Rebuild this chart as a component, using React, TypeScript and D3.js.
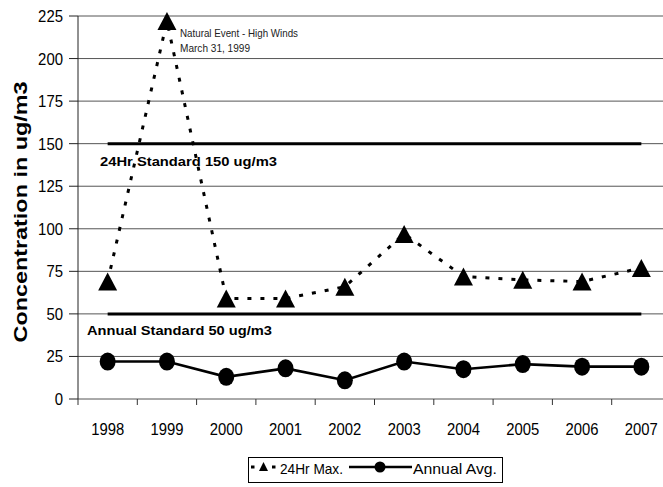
import React from "react";
import * as d3 from "d3";

const years = ["1998", "1999", "2000", "2001", "2002", "2003", "2004", "2005", "2006", "2007"];
const max24 = [69, 222, 59, 59, 66, 97, 72, 70, 69, 77];
const annualAvg = [22, 22, 13, 18, 11, 22, 17.5, 20.5, 19, 19];
const yTicks = [0, 25, 50, 75, 100, 125, 150, 175, 200, 225];
const std24 = 150;
const stdAnnual = 50;

const W = 663;
const H = 487;
const left = 78;
const rightEdge = 671;
const top = 16;
const bottom = 399;
const FONT = "'Liberation Sans', Arial, sans-serif";

export default function App() {
  const x = d3.scaleBand<string>().domain(years).range([left, rightEdge]).padding(0);
  const y = d3.scaleLinear().domain([0, 225]).range([bottom, top]);
  const cx = (d: string) => (x(d) as number) + x.bandwidth() / 2;

  const line = d3
    .line<number>()
    .x((_, i) => cx(years[i]))
    .y((v) => y(v));

  const tri = (px: number, py: number, w: number, h: number) =>
    `M${px},${py - h / 2}L${px + w / 2},${py + h / 2}L${px - w / 2},${py + h / 2}Z`;

  const x0 = cx(years[0]);
  const x1 = cx(years[years.length - 1]);

  return (
    <svg
      width={W}
      height={H}
      style={{ position: "absolute", left: 0, top: 0, background: "#fff" }}
      fontFamily={FONT}
    >
      <rect x={0} y={0} width={W} height={H} fill="#fff" />
      {/* gridlines */}
      {yTicks.map((t) => (
        <line key={"g" + t} x1={left} x2={rightEdge} y1={y(t)} y2={y(t)} stroke="#555" strokeWidth={1} />
      ))}
      {/* y axis */}
      <line x1={left} x2={left} y1={top} y2={bottom} stroke="#222" strokeWidth={1} />
      {yTicks.map((t) => (
        <g key={"yt" + t}>
          <line x1={left - 9} x2={left} y1={y(t)} y2={y(t)} stroke="#222" />
          <text
            x={63}
            y={y(t) + 6}
            textAnchor="end"
            fontSize={16.5}
            textLength={String(t).length * 8.3}
            lengthAdjust="spacingAndGlyphs"
            fill="#000"
          >
            {t}
          </text>
        </g>
      ))}
      {/* x axis ticks */}
      {years.map((yr) => (
        <line key={"xt" + yr} x1={x(yr) as number} x2={x(yr) as number} y1={bottom} y2={bottom + 6} stroke="#333" />
      ))}
      {years.slice(1).concat([]).map((yr) => null)}
      {years.map((yr) => (
        <text
          key={"xl" + yr}
          x={cx(yr)}
          y={435}
          textAnchor="middle"
          fontSize={17}
          textLength={33}
          lengthAdjust="spacingAndGlyphs"
          fill="#000"
        >
          {yr}
        </text>
      ))}
      {/* y title */}
      <text
        transform={`translate(27,212) rotate(-90)`}
        textAnchor="middle"
        fontSize={19}
        fontWeight="bold"
        textLength={261}
        lengthAdjust="spacingAndGlyphs"
        fill="#000"
      >
        Concentration in ug/m3
      </text>

      {/* standard lines */}
      <line x1={x0} x2={x1} y1={y(std24)} y2={y(std24)} stroke="#000" strokeWidth={3} />
      <line x1={x0} x2={x1} y1={y(stdAnnual)} y2={y(stdAnnual)} stroke="#000" strokeWidth={3} />
      <text x={100} y={166} fontSize={13.5} fontWeight="bold" textLength={177} lengthAdjust="spacingAndGlyphs" fill="#000">
        24Hr Standard 150 ug/m3
      </text>
      <text x={87} y={335} fontSize={13.5} fontWeight="bold" textLength={185} lengthAdjust="spacingAndGlyphs" fill="#000">
        Annual Standard 50 ug/m3
      </text>

      {/* series lines */}
      <path d={line(max24) || ""} fill="none" stroke="#000" strokeWidth={3} strokeDasharray="4,9" />
      <path d={line(annualAvg) || ""} fill="none" stroke="#000" strokeWidth={2.6} />

      {/* markers */}
      {max24.map((v, i) => (
        <path key={"tr" + i} d={tri(cx(years[i]), y(v), 19, 18)} fill="#000" />
      ))}
      {annualAvg.map((v, i) => (
        <ellipse key={"ci" + i} cx={cx(years[i])} cy={y(v)} rx={8} ry={9} fill="#000" />
      ))}

      {/* annotation */}
      <text x={180} y={37} fontSize={10.5} textLength={118} lengthAdjust="spacingAndGlyphs" fill="#222">
        Natural Event - High Winds
      </text>
      <text x={180} y={52} fontSize={10.5} textLength={70} lengthAdjust="spacingAndGlyphs" fill="#222">
        March 31, 1999
      </text>

      {/* legend */}
      <rect x={248.5} y={457.5} width={254} height={25} fill="#fff" stroke="#000" strokeWidth={1} />
      <line x1={251} x2={254.5} y1={467} y2={467} stroke="#000" strokeWidth={3} />
      <path d={tri(263.5, 466.5, 9, 9)} fill="#000" />
      <line x1={272} x2={275.5} y1={467} y2={467} stroke="#000" strokeWidth={3} />
      <text x={280} y={474} fontSize={15} textLength={63} lengthAdjust="spacingAndGlyphs" fill="#000">
        24Hr Max.
      </text>
      <line x1={349} x2={412} y1={467} y2={467} stroke="#000" strokeWidth={2.5} />
      <circle cx={380} cy={467} r={5.5} fill="#000" />
      <text x={413} y={474} fontSize={15} textLength={84} lengthAdjust="spacingAndGlyphs" fill="#000">
        Annual Avg.
      </text>
    </svg>
  );
}
